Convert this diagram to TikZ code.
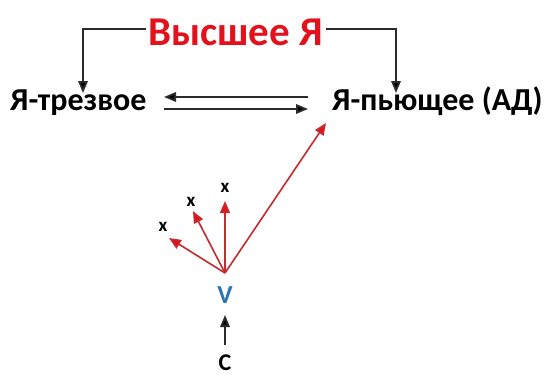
\documentclass[tikz,border=0pt]{standalone}
\usepackage{fontspec}
\setmainfont{Carlito}
\usetikzlibrary{arrows.meta}
\definecolor{hired}{HTML}{E3111B}
\definecolor{vblue}{HTML}{2E75B6}
\definecolor{linered}{HTML}{C62A2E}
\definecolor{linegray}{HTML}{2B2B2B}
\begin{document}
\begin{tikzpicture}[x=1pt,y=-1pt,
  lbl/.style={font=\bfseries\fontsize{32}{34}\selectfont, inner sep=0pt},
  conn/.style={line width=1.8pt, draw=linegray, -{Triangle[length=12pt,width=9.5pt,fill=black]}},
  rconn/.style={line width=1.6pt, draw=linered, -{Triangle[length=12pt,width=10pt,fill=hired]}},
  xmark/.style={font=\bfseries\fontsize{19}{20}\selectfont, inner sep=0pt}]
\useasboundingbox (0,0) rectangle (548,378);
% titles
\node[lbl, anchor=base west, text=hired, font=\bfseries\fontsize{41}{43}\selectfont] (top) at (148,45) {Высшее Я};
\node[lbl, anchor=base west] (sober) at (10,110) {Я-трезвое};
\node[lbl, anchor=base west] (drink) at (332,110) {Я-пьющее (АД)};
% bracket from the top label down to both selves
\coordinate (tl) at (83,93);
\coordinate (tr) at (396,93);
\draw[conn] ([xshift=-2pt]top.west |- 0,29) -- (83,29) -- (tl);
\draw[conn] ([xshift=3pt]top.east |- 0,29) -- (396,29) -- (tr);
% exchange arrows
\coordinate (a1) at (308,97);
\coordinate (a2) at (164,97);
\coordinate (b1) at (164,109);
\coordinate (b2) at (308,109);
\draw[conn] (a1) -- (a2);
\draw[conn] (b1) -- (b2);
% choice point V
\node[text=vblue, font=\bfseries\fontsize{26}{28}\selectfont, inner sep=0pt, anchor=base] (v) at (225,303) {V};
\coordinate (o) at (225,273);
\node[xmark] (x1) at (225,188) {x};
\node[xmark] (x2) at (191,202) {x};
\node[xmark] (x3) at (163,227) {x};
\draw[rconn] (o) -- (225,201);
\draw[rconn] (o) -- (193,211);
\draw[rconn] (o) -- (169,238);
\draw[rconn] (o) -- (326,123);
% C below
\node[font=\bfseries\fontsize{24}{26}\selectfont, inner sep=0pt, anchor=north] (c) at (225,355) {C};
\coordinate (ctail) at (225,345);
\draw[conn] (ctail) -- (225,315);
\end{tikzpicture}
\end{document}
